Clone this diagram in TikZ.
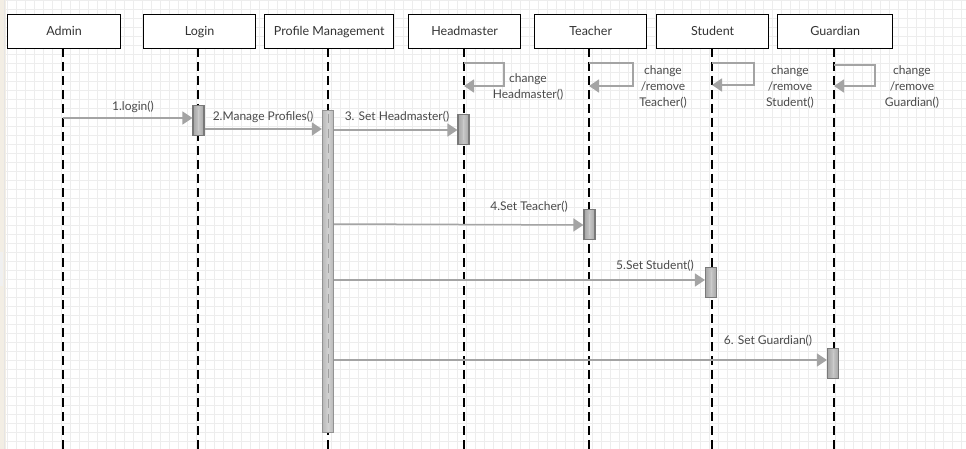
\documentclass[tikz,border=0pt]{standalone}
\usepackage{fontspec}
\setmainfont{Lato}
\usetikzlibrary{arrows.meta,calc}
\definecolor{msgc}{HTML}{A4A4A4}
\definecolor{txtc}{HTML}{4A4A4A}
\definecolor{hdrc}{HTML}{333333}
\definecolor{gridc}{HTML}{EDEDED}
\definecolor{stripc}{HTML}{F3EEE4}
\tikzset{
  x=1pt, y=-1pt,
  header/.style={draw=black, line width=1.3pt, fill=white, minimum height=34pt,
    inner sep=0pt, text height=8pt, text depth=0pt,
    font=\fontsize{12.5}{14}\selectfont, text=hdrc, anchor=north west},
  lifeline/.style={draw=black, line width=1.5pt, dash pattern=on 9pt off 5pt},
  actbar/.style={draw=gray!95!black, line width=1.2pt, shading=axis,
    left color=gray!70, right color=gray!70, middle color=gray!45,
    minimum width=11pt, inner sep=0pt, anchor=north},
  longbar/.style={draw=gray!85, line width=1.3pt, shading=axis,
    left color=gray!55, right color=gray!55, middle color=gray!35,
    minimum width=11pt, inner sep=0pt, anchor=north},
  msg/.style={draw=msgc, line width=1.5pt, -{Triangle[length=10pt,width=13pt]}},
  selfmsg/.style={draw=msgc, line width=1.5pt, -{Triangle[length=10pt,width=13pt]}},
  lbl/.style={font=\fontsize{12}{16}\selectfont, text=txtc, inner sep=0pt, align=center},
}
\begin{document}
\begin{tikzpicture}
\useasboundingbox (0,0) rectangle (966,449);
% background sheet with grid
\fill[white] (0,0) rectangle (966,449);
\foreach \gx in {7,16,...,966} \draw[gridc, line width=0.6pt] (\gx,0) -- (\gx,449);
\foreach \gy in {0,9,...,449} \draw[gridc, line width=0.6pt] (6,\gy) -- (966,\gy);
\fill[stripc] (0,0) rectangle (6,449);
\draw[gray!20, line width=0.5pt] (4.5,0) -- (4.5,449);
\fill[gray!12] (0,252) rectangle (3,286);

% participants
\node[header, minimum width=113pt] (admin) at (7,14) {Admin};
\node[header, minimum width=112pt] (login) at (143,14) {Login};
\node[header, minimum width=129pt] (pm) at (264,14) {Profile Management};
\node[header, minimum width=112pt] (hm) at (408,14) {Headmaster};
\node[header, minimum width=112pt] (te) at (534,14) {Teacher};
\node[header, minimum width=112pt] (st) at (656,14) {Student};
\node[header, minimum width=115pt] (gu) at (777,14) {Guardian};

% lifelines
\coordinate (adminX) at (63,48);
\coordinate (loginX) at (198,48);
\coordinate (pmX) at (328,48);
\coordinate (hmX) at (464,48);
\coordinate (teX) at (589,48);
\coordinate (stX) at (712,48);
\coordinate (guX) at (834,48);
\foreach \p in {adminX,loginX,pmX,hmX,teX,stX,guX}
  \draw[lifeline] (\p) -- (\p |- 0,449);

% activation bars
\node[longbar, minimum height=322pt] (pmBar) at (328,110) {};
\draw[gray!75, line width=1pt, dash pattern=on 9pt off 6pt] (328,114) -- (328,428);
\node[actbar, minimum height=30pt] (loginBar) at (198.5,105) {};
\node[actbar, minimum height=30pt] (hmBar) at (463.5,114) {};
\node[actbar, minimum height=30pt] (teBar) at (589.5,209) {};
\node[actbar, minimum height=30pt] (stBar) at (711,267) {};
\node[actbar, minimum height=30pt] (guBar) at (833,348) {};
\foreach \b in {loginBar,hmBar,teBar,stBar,guBar}
  \draw[gray!40, line width=0.8pt] ($(\b.north)+(0,5)$) -- ($(\b.south)+(0,-5)$);

% messages
\draw[msg] (adminX |- 0,118) -- (loginBar.west |- 0,118);
\node[lbl] (m1) at (133,107) {1.login()};
\draw[msg] (loginBar.east |- 0,129) -- (pmBar.west |- 0,129);
\node[lbl] (m2) at (263,117) {2.Manage Profiles()};
\draw[msg] (pmBar.east |- 0,130) -- (hmBar.west |- 0,130);
\node[lbl] (m3) at (397,117) {3. Set Headmaster()};
\draw[msg] (pmBar.east |- 0,224) -- (teBar.west |- 0,225);
\node[lbl] (m4) at (529,207) {4.Set Teacher()};
\draw[msg] (pmBar.east |- 0,280) -- (stBar.west |- 0,280);
\node[lbl] (m5) at (655,266) {5.Set Student()};
\draw[msg] (pmBar.east |- 0,360) -- (guBar.west |- 0,360);
\node[lbl] (m6) at (768,341) {6. Set Guardian()};

% self messages
\draw[selfmsg] (hmX |- 0,63) -- (504,63) -- (504,86) -- (hmX |- 0,86);
\node[lbl] (s1) at (528,87) {change\\Headmaster()};
\draw[selfmsg] (teX |- 0,63) -- (633,63) -- (633,86) -- (teX |- 0,86);
\node[lbl] (s2) at (663,87) {change\\/remove\\Teacher()};
\draw[selfmsg] (stX |- 0,63) -- (754,63) -- (754,85) -- (stX |- 0,85);
\node[lbl] (s3) at (790,87) {change\\/remove\\Student()};
\draw[selfmsg] (guX |- 0,65) -- (875,65) -- (875,86) -- (guX |- 0,86);
\node[lbl] (s4) at (912,87) {change\\/remove\\Guardian()};
\end{tikzpicture}
\end{document}
